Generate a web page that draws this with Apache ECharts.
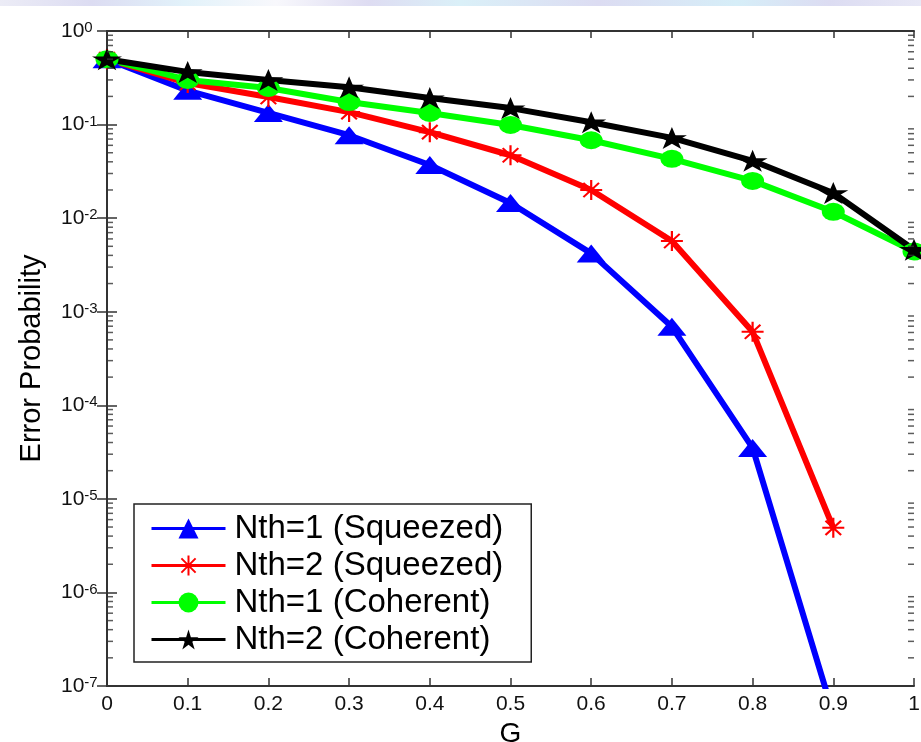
<!DOCTYPE html>
<html>
<head>
<meta charset="utf-8">
<title>Error Probability vs G</title>
<script src="https://cdn.jsdelivr.net/npm/echarts@6/dist/echarts.min.js"></script>
<style>
  html, body { margin: 0; padding: 0; background: #fff; }
  #main { width: 921px; height: 742px; }
</style>
</head>
<body>
<div id="main"></div>
<script>
// G values on the x axis
var gValues = [0, 0.1, 0.2, 0.3, 0.4, 0.5, 0.6, 0.7, 0.8, 0.9, 1.0];

// error probability
var nth1Squeezed = [0.5, 0.23, 0.133, 0.077, 0.037, 0.0145, 0.0042, 6.9e-4, 3.5e-5, 5e-8];
var nth2Squeezed = [0.5, 0.278, 0.197, 0.136, 0.083, 0.047, 0.020, 0.0057, 6.1e-4, 4.9e-6];
var nth1Coherent = [0.5, 0.30, 0.246, 0.174, 0.133, 0.099, 0.068, 0.043, 0.025, 0.0117, 0.0044];
var nth2Coherent = [0.5, 0.365, 0.30, 0.25, 0.192, 0.150, 0.106, 0.072, 0.041, 0.0186, 0.0046];

var seriesNames = ['Nth=1 (Squeezed)', 'Nth=2 (Squeezed)', 'Nth=1 (Coherent)', 'Nth=2 (Coherent)'];

// decade exponents of the y axis (10^-7 .. 10^0)
var expMin = -7;
var expMax = 0;

// log minor ticks 2..9 in each decade
var minorTicks = [];
for (var e = expMin; e < expMax; e++) {
  for (var m = 2; m <= 9; m++) {
    minorTicks.push(m * Math.pow(10, e));
  }
}

function toPairs(arr) {
  return arr.map(function (v, i) { return [gValues[i], v]; });
}

var starPath = 'path://M10 0 L12.25 6.91 L19.51 6.91 L13.63 11.18 L15.88 18.09 L10 13.82 L4.12 18.09 L6.37 11.18 L0.49 6.91 L7.75 6.91 Z';
var asteriskPath = 'path://M9 0 L11 0 L11 20 L9 20 Z M0 9 L20 9 L20 11 L0 11 Z ' +
  'M3.6 2.2 L17.8 16.4 L16.4 17.8 L2.2 3.6 Z M17.8 3.6 L3.6 17.8 L2.2 16.4 L16.4 2.2 Z';

var fontFam = '"Liberation Sans", Arial, Helvetica, sans-serif';
var axisColor = '#333333';

var dom = document.getElementById('main');
var myChart = echarts.init(dom, null, { renderer: 'canvas' });

function yAxisBase(pos) {
  return {
    type: 'log',
    logBase: 10,
    min: Math.pow(10, expMin),
    max: Math.pow(10, expMax),
    splitNumber: 7,
    position: pos,
    splitLine: { show: false },
    axisLine: { show: true, lineStyle: { color: axisColor, width: 2 } },
    axisTick: { show: true, inside: true, length: 10, lineStyle: { color: axisColor, width: 1.5 } },
    axisLabel: { show: false }
  };
}

var yLeft = yAxisBase('left');
yLeft.name = 'Error Probability';
yLeft.nameLocation = 'middle';
yLeft.nameGap = 61;
yLeft.nameTextStyle = { fontSize: 29, fontFamily: fontFam, color: '#000' };
yLeft.axisLabel = {
  show: true,
  align: 'left',
  margin: 46,
  formatter: function (v) {
    return '{b|10}{s|' + Math.round(Math.log10(v)) + '}';
  },
  rich: {
    b: { fontSize: 21, fontFamily: fontFam, color: '#111', lineHeight: 21, verticalAlign: 'bottom' },
    s: { fontSize: 15, fontFamily: fontFam, color: '#111', lineHeight: 15, verticalAlign: 'top', padding: [0, 0, 13, 0] }
  }
};

// short inside tick marks for the log minor ticks (left and right frame)
function minorTickSeries(xVal, offset) {
  return {
    type: 'scatter',
    xAxisIndex: 0,
    yAxisIndex: 0,
    data: minorTicks.map(function (v) { return [xVal, v]; }),
    symbol: 'rect',
    symbolSize: [6, 1.5],
    symbolOffset: [offset, 0],
    clip: false,
    silent: true,
    z: 3,
    itemStyle: { color: axisColor }
  };
}

var option = {
  backgroundColor: '#ffffff',
  animation: false,
  graphic: [
    {
      type: 'rect',
      left: 0, top: 0,
      shape: { width: 921, height: 6 },
      style: {
        fill: new echarts.graphic.LinearGradient(0, 0, 1, 0, [
          { offset: 0, color: '#ececf6' },
          { offset: 0.1, color: '#dcdcf2' },
          { offset: 0.2, color: '#e2f2fa' },
          { offset: 0.3, color: '#f8f8fc' },
          { offset: 0.4, color: '#dedcf2' },
          { offset: 0.5, color: '#daf0f8' },
          { offset: 0.65, color: '#dcdcf2' },
          { offset: 0.8, color: '#d6eef8' },
          { offset: 0.9, color: '#dcdcf2' },
          { offset: 1, color: '#e8e8f6' }
        ])
      },
      silent: true
    }
  ],
  grid: {
    left: 107,
    right: 7,
    top: 31,
    bottom: 56,
    outerBoundsMode: 'none'
  },
  legend: {
    data: seriesNames,
    orient: 'vertical',
    left: 134,
    top: 504,
    padding: [8, 28, 6, 16],
    itemGap: 4,
    itemWidth: 74,
    itemHeight: 25,
    backgroundColor: '#ffffff',
    borderColor: '#222222',
    borderWidth: 1.5,
    selectedMode: false,
    lineStyle: { width: 3 },
    textStyle: {
      fontSize: 33,
      fontFamily: fontFam,
      color: '#000',
      lineHeight: 33,
      padding: [0, 0, 0, 4]
    }
  },
  xAxis: [
    {
      type: 'value',
      min: 0,
      max: 1,
      interval: 0.1,
      position: 'bottom',
      name: 'G',
      nameLocation: 'middle',
      nameGap: 30,
      nameTextStyle: { fontSize: 28, fontFamily: fontFam, color: '#000' },
      splitLine: { show: false },
      axisLine: { show: true, onZero: false, lineStyle: { color: axisColor, width: 2 } },
      axisTick: { show: true, inside: true, length: 8, lineStyle: { color: axisColor, width: 1.5 } },
      axisLabel: {
        margin: 8,
        fontSize: 21,
        fontFamily: fontFam,
        color: '#111',
        formatter: function (v) { return String(+v.toFixed(1)); }
      }
    },
    {
      type: 'value',
      min: 0,
      max: 1,
      interval: 0.1,
      position: 'top',
      splitLine: { show: false },
      axisLine: { show: true, onZero: false, lineStyle: { color: axisColor, width: 2 } },
      axisTick: { show: true, inside: true, length: 7, lineStyle: { color: axisColor, width: 1.5 } },
      axisLabel: { show: false }
    }
  ],
  yAxis: [
    yLeft,
    yAxisBase('right')
  ],
  series: [
    {
      name: seriesNames[0],
      type: 'line',
      data: toPairs(nth1Squeezed),
      symbol: 'triangle',
      symbolSize: [29, 18],
      clip: true,
      color: '#0000ff',
      lineStyle: { color: '#0000ff', width: 6 },
      itemStyle: { color: '#0000ff' }
    },
    {
      name: seriesNames[1],
      type: 'line',
      data: toPairs(nth2Squeezed),
      symbol: asteriskPath,
      symbolSize: [22, 20],
      clip: true,
      color: '#ff0000',
      lineStyle: { color: '#ff0000', width: 6 },
      itemStyle: { color: '#ff0000' }
    },
    {
      name: seriesNames[2],
      type: 'line',
      data: toPairs(nth1Coherent),
      symbol: 'circle',
      symbolSize: [23, 18],
      clip: true,
      color: '#00ff00',
      lineStyle: { color: '#00ff00', width: 6 },
      itemStyle: { color: '#00ff00' }
    },
    {
      name: seriesNames[3],
      type: 'line',
      data: toPairs(nth2Coherent),
      symbol: starPath,
      symbolSize: [30, 22],
      clip: true,
      color: '#000000',
      lineStyle: { color: '#000000', width: 6 },
      itemStyle: { color: '#000000' }
    },
    minorTickSeries(0, 3),
    minorTickSeries(1, -3)
  ]
};

if (option && typeof option === 'object') {
  myChart.setOption(option);
}

window.addEventListener('resize', myChart.resize);
</script>
</body>
</html>
